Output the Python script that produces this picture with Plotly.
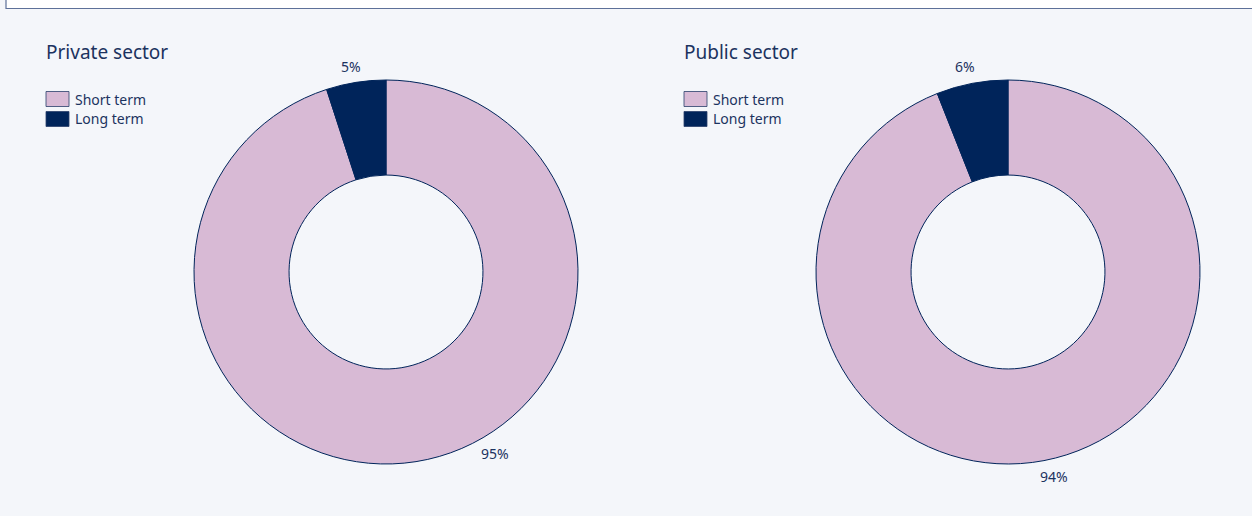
import plotly.graph_objects as go

# Share of contracts by duration, per sector
labels = ["Short term", "Long term"]
private_values = [95, 5]
public_values = [94, 6]
sector_titles = ["Private sector", "Public sector"]

colors = ["#d8bad5", "#00245a"]
navy = "#1c335f"
bg = "#f4f6fa"
font_family = "Noto Sans, Open Sans, sans-serif"

W, H = 1252, 516

fig = go.Figure()

domains = [
    dict(x=[194 / W, 578 / W], y=[(244 - 192) / H, (244 + 192) / H]),
    dict(x=[816 / W, 1200 / W], y=[(244 - 192) / H, (244 + 192) / H]),
]

for vals, dom in zip([private_values, public_values], domains):
    fig.add_trace(go.Pie(
        labels=labels,
        values=vals,
        hole=0.505,
        sort=False,
        direction="clockwise",
        rotation=0,
        textinfo="none",
        marker=dict(colors=colors, line=dict(color="#00245a", width=1)),
        domain=dom,
        showlegend=False,
    ))

shapes = []
annotations = []

# top frame strip
shapes.append(dict(type="rect", xref="paper", yref="paper",
                   x0=6 / W, x1=1.01, y0=(H - 8.5) / H, y1=1.01,
                   fillcolor="white", line=dict(color="#5d7099", width=1.2),
                   layer="below"))

# titles and legends for each donut
left_edges = [46, 684]
for x0, title in zip(left_edges, sector_titles):
    annotations.append(dict(
        text=title, xref="paper", yref="paper",
        x=(x0 - 2) / W, y=(H - 52) / H, xanchor="left", yanchor="middle",
        showarrow=False, font=dict(family=font_family, size=19, color=navy),
    ))
    for i, (lab, col) in enumerate(zip(labels, colors)):
        yc = 99 + 20 * i
        shapes.append(dict(
            type="rect", xref="paper", yref="paper",
            x0=x0 / W, x1=(x0 + 23) / W,
            y0=(H - yc - 7.5) / H, y1=(H - yc + 7.5) / H,
            fillcolor=col, line=dict(color="#2a3f6b", width=0.8),
        ))
        annotations.append(dict(
            text=lab, xref="paper", yref="paper",
            x=(x0 + 27) / W, y=(H - yc) / H, xanchor="left", yanchor="middle",
            showarrow=False, font=dict(family=font_family, size=14, color=navy),
        ))

# value labels around each donut
label_pos = [
    [(495, 453), (351, 66)],
    [(1054, 476), (965, 66)],
]
for vals, positions in zip([private_values, public_values], label_pos):
    for v, (px, py) in zip(vals, positions):
        annotations.append(dict(
            text=f"{v}%", xref="paper", yref="paper",
            x=px / W, y=(H - py) / H, xanchor="center", yanchor="middle",
            showarrow=False, font=dict(family=font_family, size=14, color=navy),
        ))

fig.update_layout(
    width=W, height=H,
    margin=dict(l=0, r=0, t=0, b=0),
    paper_bgcolor=bg,
    plot_bgcolor=bg,
    shapes=shapes,
    annotations=annotations,
    showlegend=False,
)

fig.write_html("out.html")
